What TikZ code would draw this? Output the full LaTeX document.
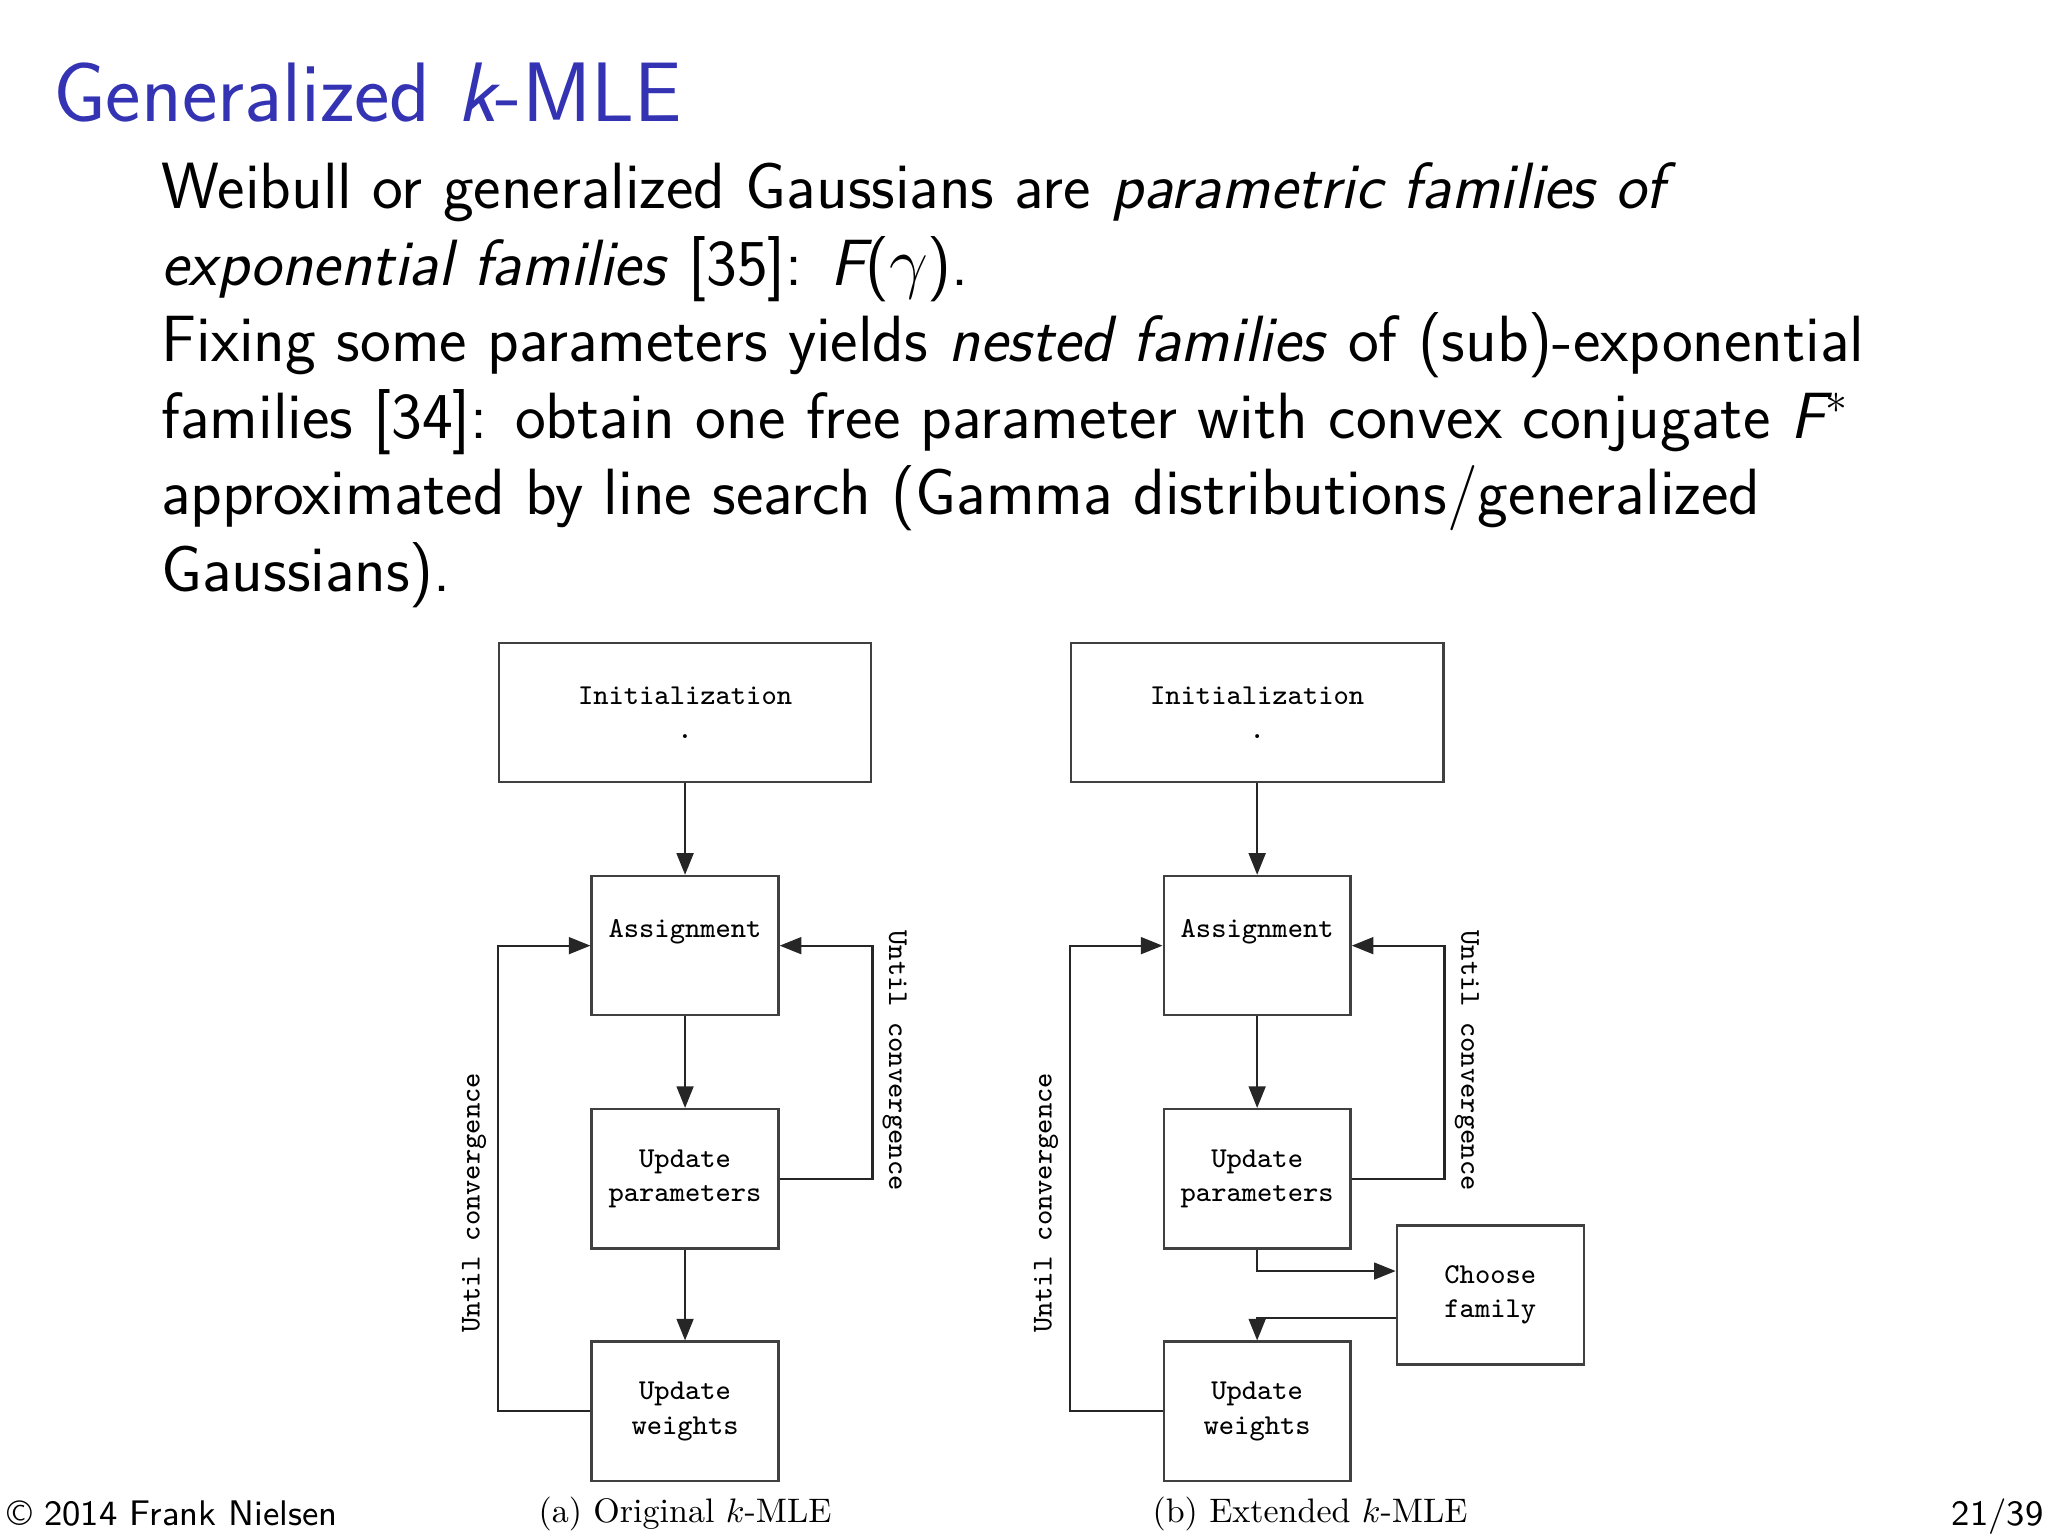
\documentclass[tikz,border=0pt]{standalone}
\usepackage{fontspec}
\usetikzlibrary{arrows.meta,positioning}
\definecolor{slideblue}{RGB}{51,51,179}
\definecolor{boxline}{RGB}{64,64,64}

\begin{document}
\begin{tikzpicture}[x=0.3265pt,y=-0.3265pt,
  box/.style={draw=boxline,line width=0.6pt,minimum width=46.7pt,minimum height=34.8pt,inner sep=0pt,align=center,font=\ttfamily\fontsize{7.2}{8.6}\selectfont},
  widebox/.style={box,minimum width=93.1pt},
  loopnote/.style={inner sep=0pt,font=\ttfamily\fontsize{7.2}{8.6}\selectfont},
  body/.style={anchor=base west,inner sep=0pt,font=\sffamily\fontsize{16.35}{19.6}\selectfont},
  capt/.style={anchor=base,inner sep=0pt,scale=0.85,font=\rmfamily\fontsize{10}{12}\selectfont},
  foot/.style={inner sep=0pt,font=\sffamily\fontsize{8.9}{10}\selectfont},
  flow/.style={->,line width=0.55pt,color=black!85},
  >={Triangle[length=5.4pt,width=4.2pt]}]
\useasboundingbox (0,0) rectangle (1568,1176);

\node[anchor=base west,inner sep=0pt,font=\sffamily\fontsize{21.1}{25}\selectfont,text=slideblue] (title) at (40,93) {Generalized {\itshape k}-MLE};

\foreach \txt [count=\n] in {
    {Weibull or generalized Gaussians are \emph{parametric families of}},
    {\emph{exponential families} [35]: {\itshape F}($\gamma$).},
    {Fixing some parameters yields \emph{nested families} of (sub)-exponential},
    {families [34]: obtain one free parameter with convex conjugate {\itshape F}$^*$},
    {approximated by line search (Gamma distributions/generalized},
    {Gaussians).}}
  \node[body] (L\n) at (123,{101.5+58.5*\n}) {\txt};

% (a) original
\node[widebox] (INa) at (524.5,545.5) {Initialization\\.};
\node[box] (ASa) at (524.5,724) {Assignment\\\mbox{}};
\node[box] (UPa) at (524.5,902.5) {Update\\parameters};
\node[box] (UWa) at (524.5,1080.5) {Update\\weights};
\node[loopnote,rotate=-90] (LRa) at (685,812) {Until convergence};
\node[loopnote,rotate=90] (LLa) at (363,921) {Until convergence};
\node[capt] (CPa) at (524.5,1166) {(a) Original $k$-MLE};

\path[flow]
  (INa.south) edge (ASa.north)
  (ASa.south) edge (UPa.north)
  (UPa.south) edge (UWa.north);
\draw[flow] (UPa.east) -| (INa.east |- ASa.east) -- (ASa.east);
\draw[flow] (UWa.west) -| (INa.west |- ASa.west) -- (ASa.west);

% (b) extended
\node[widebox] (INb) at (962.5,545.5) {Initialization\\.};
\node[box] (ASb) at (962.5,724) {Assignment\\\mbox{}};
\node[box] (UPb) at (962.5,902.5) {Update\\parameters};
\node[box] (CFb) at (1141,991.5) {Choose\\family};
\node[box] (UWb) at (962.5,1080.5) {Update\\weights};
\node[loopnote,rotate=-90] (LRb) at (1123,812) {Until convergence};
\node[loopnote,rotate=90] (LLb) at (801,921) {Until convergence};
\node[capt] (CPb) at (1003,1166) {(b) Extended $k$-MLE};

\path[flow]
  (INb.south) edge (ASb.north)
  (ASb.south) edge (UPb.north);
\draw[flow] (UPb.east) -| (INb.east |- ASb.east) -- (ASb.east);
\draw[flow] (UWb.west) -| (INb.west |- ASb.west) -- (ASb.west);
\draw[flow] (UPb.south) |- ([yshift=6pt]CFb.west);
\draw[flow] ([yshift=-5.7pt]CFb.west) -| (UWb.north);

% footline
\node[foot,anchor=base west] (FTl) at (5,1168) {\copyright{} 2014 Frank Nielsen};
\node[foot,anchor=base east] (FTr) at (1565,1168) {21/39};
\end{tikzpicture}
\end{document}
